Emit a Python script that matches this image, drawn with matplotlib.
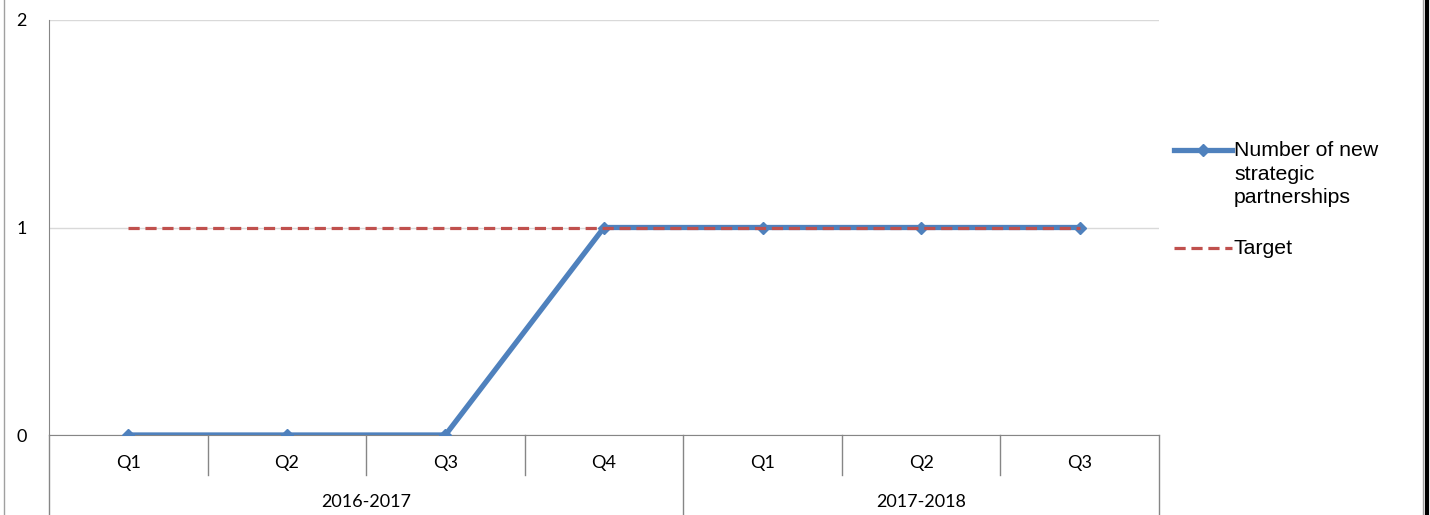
import matplotlib.pyplot as plt
from matplotlib.lines import Line2D
import matplotlib.transforms as mtransforms
import numpy as np

# quarterly data
quarters = ['Q1', 'Q2', 'Q3', 'Q4', 'Q1', 'Q2', 'Q3']
years = ['2016-2017', '2017-2018']
year_sizes = [4, 3]
partnerships = [0, 0, 0, 1, 1, 1, 1]
target = [1, 1, 1, 1, 1, 1, 1]

BLUE = '#4F81BD'
RED = '#C0504D'
AXIS = '#868686'
GRID = '#D9D9D9'

W, H = 1430, 515
fig = plt.figure(figsize=(W / 100, H / 100), dpi=100)
ax = fig.add_axes([49 / W, 80 / H, (1159 - 49) / W, (435 - 20) / H])

x = np.arange(len(quarters))
ax.plot(x, partnerships, color=BLUE, lw=3.8, marker='D', ms=6.5,
        solid_joinstyle='miter', zorder=3)
ax.plot(x, target, color=RED, lw=2.3, ls=(0, (3.5, 1.8)), zorder=4)

ax.set_xlim(-0.5, len(quarters) - 0.5)
ax.set_ylim(0, 2)
ax.set_yticks([0, 1, 2])
ax.yaxis.grid(True, color=GRID, lw=1)
ax.set_axisbelow(True)

tick_font = dict(family='Lato', size=13)
ax.set_yticklabels(['0', '1', '2'], **tick_font)
ax.tick_params(axis='y', length=0, pad=16)
ax.set_xticks([])

for s in ['top', 'right']:
    ax.spines[s].set_visible(False)
ax.spines['left'].set_color(AXIS)
ax.spines['bottom'].set_color(AXIS)

# two-level category axis below the plot
trans = mtransforms.blended_transform_factory(ax.transData, ax.transAxes)
bottom = -80 / (435 - 20)
mid = -40 / (435 - 20)
ax.plot([-0.5, -0.5], [0, bottom], color=AXIS, lw=1, transform=trans, clip_on=False)
for i, q in enumerate(quarters):
    ax.text(i, -28 / (435 - 20), q, transform=trans, ha='center', va='center', **tick_font)
edges = np.cumsum(year_sizes) - 0.5
for b in np.arange(0.5, len(quarters) - 0.5):
    if b not in edges:
        ax.plot([b, b], [0, mid], color=AXIS, lw=1, transform=trans, clip_on=False)
start = -0.5
for yr, n, e in zip(years, year_sizes, edges):
    ax.plot([e, e], [0, bottom], color=AXIS, lw=1, transform=trans, clip_on=False)
    ax.text((start + e) / 2, -67 / (435 - 20), yr, transform=trans,
            ha='center', va='center', **tick_font)
    start = e

# legend
leg_font = dict(family='Liberation Sans', size=15.3, va='center', ha='left')
fig.add_artist(Line2D([1174 / W, 1203 / W, 1232 / W], [1 - 150 / H] * 3, color=BLUE,
                      lw=3.8, marker='D', markevery=[1], ms=6.5))
fig.add_artist(Line2D([1174 / W, 1232 / W], [1 - 248 / H] * 2, color=RED, lw=2.3,
                      ls=(0, (3.5, 1.8))))
fig.text(1234 / W, 1 - 174 / H, 'Number of new\nstrategic\npartnerships',
         linespacing=1.33, **leg_font)
fig.text(1234 / W, 1 - 248 / H, 'Target', **leg_font)

# outer frame
fig.add_artist(Line2D([3.5 / W] * 2, [0, 1], color='#A0A0A0', lw=1))
fig.add_artist(Line2D([1422.5 / W] * 2, [0, 1], color='#A0A0A0', lw=1))
fig.add_artist(Line2D([1426.5 / W] * 2, [0, 1], color='black', lw=3))

fig.savefig('out.png', dpi=100)
